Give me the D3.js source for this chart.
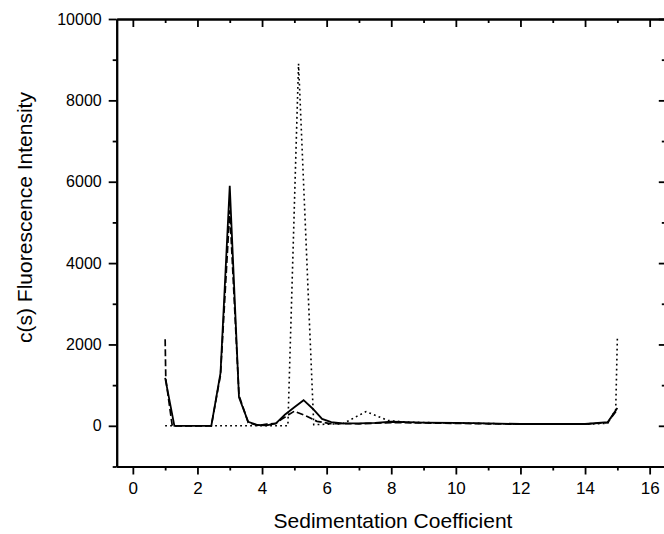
<!DOCTYPE html>
<html>
<head>
<meta charset="utf-8">
<script src="https://cdn.jsdelivr.net/npm/d3@7"></script>
<style>
body { margin:0; background:#fff; }
svg { display:block; }
text { font-family: "Liberation Sans", Arial, sans-serif; fill:#000; }
</style>
</head>
<body>
<div id="chart"></div>
<script>
// tick values
var xMajor = [0, 2, 4, 6, 8, 10, 12, 14, 16];
var xMinor = [1, 3, 5, 7, 9, 11, 13, 15];
var yMajor = [0, 2000, 4000, 6000, 8000, 10000];
var yMinor = [-1000, 1000, 3000, 5000, 7000, 9000];

// c(s) distributions, [s, intensity]
var solidSeries = [
    [1.0, 1180], [1.286, 0], [1.571, 0], [2.0, 0], [2.429, 0], [2.714, 1300],
    [3.0, 5900], [3.286, 700], [3.571, 100], [3.857, 20], [4.143, 10], [4.429, 60],
    [4.714, 280], [5.0, 455], [5.286, 630], [5.571, 420], [5.857, 170], [6.143, 90],
    [6.5, 60], [7.0, 60], [7.5, 70], [8.0, 100], [8.5, 90], [9.0, 80], [10.0, 70],
    [11.0, 60], [12.0, 45], [13.0, 45], [14.0, 45], [14.7, 90], [15.0, 440]
];
var dashedSeries = [
    [1.0, 2130], [1.02, 1150], [1.22, 0], [2.0, 0], [2.429, 0], [2.714, 1250],
    [3.0, 5300], [3.286, 750], [3.571, 80], [3.857, 10], [4.143, 40], [4.429, 60],
    [4.6, 160], [5.0, 360], [5.4, 230], [5.7, 110], [6.1, 55], [7.0, 50], [8.0, 80],
    [9.0, 70], [10.0, 60], [11.0, 50], [12.0, 40], [13.0, 40], [14.0, 40],
    [14.7, 80], [15.0, 400]
];
var dottedSeries = [
    [1.0, 0], [2.0, 0], [3.0, 0], [4.0, 0], [4.8, 0], [5.13, 8900], [5.6, 30],
    [6.5, 50], [7.22, 350], [7.9, 130], [8.5, 90], [9.0, 80], [10.0, 70],
    [11.0, 55], [12.0, 45], [13.0, 40], [14.0, 40], [14.7, 60], [14.95, 400],
    [15.0, 2150]
];

var W = 664, H = 534;
var margin = {top: 19, left: 116.7};
var plotW = 549.1, plotH = 447.5;

var svg = d3.select('#chart').append('svg')
    .attr('width', W)
    .attr('height', H);

var g = svg.append('g')
    .attr('transform', 'translate(' + margin.left + ',' + margin.top + ')');

var x = d3.scaleLinear().domain([-0.5, 16.5]).range([0, plotW]);
var y = d3.scaleLinear().domain([-1000, 10000]).range([plotH, 0]);

function styleAxis(sel){
    sel.select('.domain').attr('stroke', '#000').attr('stroke-width', 2);
    sel.selectAll('.tick line').attr('stroke', '#000').attr('stroke-width', 1.8);
}

// bottom
var bottomAxis = g.append('g').attr('transform', 'translate(0,' + plotH + ')')
    .call(d3.axisBottom(x).tickValues(xMajor).tickSize(8).tickSizeOuter(0).tickPadding(7)
        .tickFormat(d3.format('d')));
styleAxis(bottomAxis);
bottomAxis.selectAll('text').style('font-size', '17px');
var bottomMinor = g.append('g').attr('transform', 'translate(0,' + plotH + ')')
    .call(d3.axisBottom(x).tickValues(xMinor).tickSize(4).tickSizeOuter(0).tickFormat(''));
styleAxis(bottomMinor);

// top (inward ticks, no labels)
var topAxis = g.append('g')
    .call(d3.axisTop(x).tickValues(xMajor).tickSize(-8).tickSizeOuter(0).tickFormat(''));
styleAxis(topAxis);
var topMinor = g.append('g')
    .call(d3.axisTop(x).tickValues(xMinor).tickSize(-4).tickSizeOuter(0).tickFormat(''));
styleAxis(topMinor);

// left
var leftAxis = g.append('g')
    .call(d3.axisLeft(y).tickValues(yMajor).tickSize(8).tickSizeOuter(0).tickPadding(7)
        .tickFormat(d3.format('d')));
styleAxis(leftAxis);
leftAxis.selectAll('text').style('font-size', '16px');
var leftMinor = g.append('g')
    .call(d3.axisLeft(y).tickValues(yMinor).tickSize(4).tickSizeOuter(0).tickFormat(''));
styleAxis(leftMinor);

// right (inward ticks, axis line falls just off the page edge)
var rightAxis = g.append('g').attr('transform', 'translate(' + plotW + ',0)')
    .call(d3.axisRight(y).tickValues(yMajor).tickSize(-7).tickSizeOuter(0).tickFormat(''));
styleAxis(rightAxis);
var rightMinor = g.append('g').attr('transform', 'translate(' + plotW + ',0)')
    .call(d3.axisRight(y).tickValues(yMinor).tickSize(-4).tickSizeOuter(0).tickFormat(''));
styleAxis(rightMinor);

var line = d3.line()
    .x(function(d){ return x(d[0]) })
    .y(function(d){ return y(d[1]) });

g.append('path')
    .attr('d', line(dottedSeries))
    .attr('fill', 'none')
    .attr('stroke', '#000')
    .attr('stroke-width', 1.6)
    .attr('stroke-dasharray', '1.8,3.2');

g.append('path')
    .attr('d', line(dashedSeries))
    .attr('fill', 'none')
    .attr('stroke', '#000')
    .attr('stroke-width', 1.7)
    .attr('stroke-dasharray', '7,3');

g.append('path')
    .attr('d', line(solidSeries))
    .attr('fill', 'none')
    .attr('stroke', '#000')
    .attr('stroke-width', 1.8)
    .attr('stroke-linejoin', 'miter');

// axis titles
svg.append('text')
    .attr('x', 393)
    .attr('y', 528)
    .attr('text-anchor', 'middle')
    .style('font-size', '21px')
    .text('Sedimentation Coefficient');

svg.append('text')
    .attr('transform', 'translate(32,217.5) rotate(-90)')
    .attr('text-anchor', 'middle')
    .style('font-size', '21px')
    .text('c(s) Fluorescence Intensity');
</script>
</body>
</html>
